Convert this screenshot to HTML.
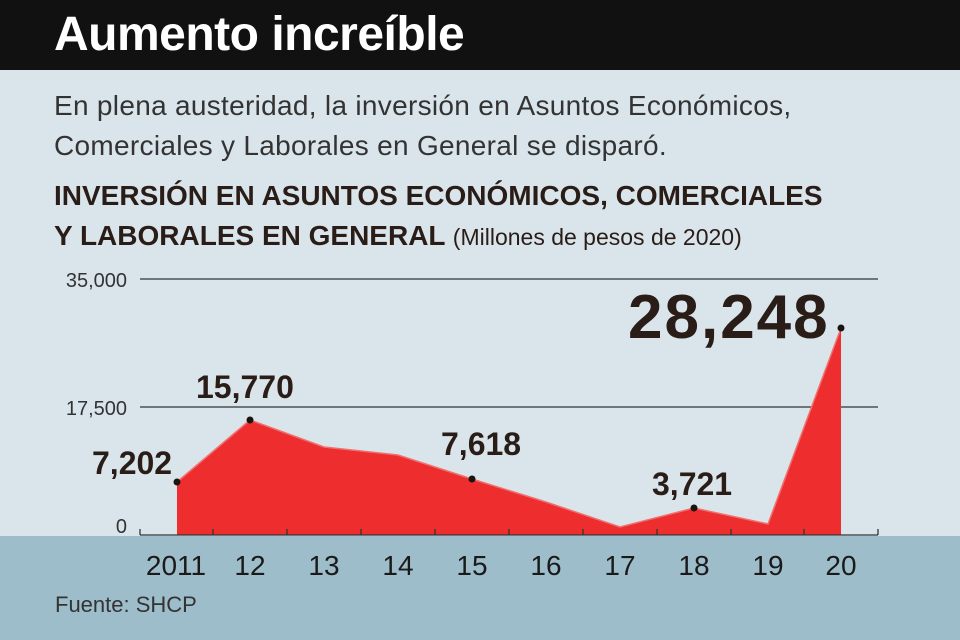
<!DOCTYPE html><html><head><meta charset="utf-8"><style>
body{margin:0;width:960px;height:640px;overflow:hidden;background:#d9e5eb;font-family:"Liberation Sans",sans-serif;position:relative}
.h{position:absolute;left:0;top:0;width:960px;height:70px;background:#111}
.t{position:absolute;left:54px;top:7px;color:#fff;font-weight:bold;font-size:48px;letter-spacing:-0.5px}
.s{position:absolute;left:54px;top:86px;font-size:28px;line-height:40px;color:#333;letter-spacing:0.3px}
.c{position:absolute;left:54px;top:176px;font-size:28px;line-height:40px;font-weight:bold;color:#2a1d17}
.c span{font-weight:normal;font-size:23px}
.band{position:absolute;left:0;top:536px;width:960px;height:104px;background:#9ebdca}
svg{position:absolute;left:0;top:0}
</style></head><body>
<div class="h"></div><div class="t">Aumento increíble</div>
<div class="s">En plena austeridad, la inversión en Asuntos Económicos,<br>Comerciales y Laborales en General se disparó.</div>
<div class="c">INVERSIÓN EN ASUNTOS ECONÓMICOS, COMERCIALES<br>Y LABORALES EN GENERAL <span>(Millones de pesos de 2020)</span></div>
<div class="band"></div>
<svg width="960" height="640" font-family="Liberation Sans, sans-serif">
<line x1="140" y1="279" x2="878" y2="279" stroke="#333" stroke-width="1.3"/>
<line x1="140" y1="407" x2="878" y2="407" stroke="#333" stroke-width="1.3"/>
<polygon points="177,535 177,482 250,420 324,447 398,455 472,479 546,502 620,527 694,508 768,524 841,328 841,535" fill="#ee2e2e"/>
<polyline points="177,482 250,420 324,447 398,455 472,479 546,502 620,527 694,508 768,524 841,328" fill="none" stroke="#f07070" stroke-width="1.5"/>
<line x1="140" y1="535" x2="878" y2="535" stroke="#333" stroke-width="1.3"/>
<g stroke="#333" stroke-width="1.3"><line x1="140" y1="529" x2="140" y2="535"/><line x1="213" y1="529" x2="213" y2="535"/><line x1="287" y1="529" x2="287" y2="535"/><line x1="361" y1="529" x2="361" y2="535"/><line x1="435" y1="529" x2="435" y2="535"/><line x1="509" y1="529" x2="509" y2="535"/><line x1="583" y1="529" x2="583" y2="535"/><line x1="657" y1="529" x2="657" y2="535"/><line x1="731" y1="529" x2="731" y2="535"/><line x1="804" y1="529" x2="804" y2="535"/><line x1="878" y1="529" x2="878" y2="535"/></g>
<g fill="#1a1410"><circle cx="177" cy="482" r="3.5"/><circle cx="250" cy="420" r="3.5"/><circle cx="472" cy="479" r="3.5"/><circle cx="694" cy="508" r="3.5"/><circle cx="841" cy="328" r="3.5"/></g>
<g font-size="20" fill="#333" text-anchor="end"><text x="127" y="287">35,000</text><text x="127" y="415">17,500</text><text x="127" y="533">0</text></g>
<g font-size="32" fill="#2a1d17" font-weight="bold"><text x="92" y="474">7,202</text><text x="196" y="398">15,770</text><text x="441" y="455">7,618</text><text x="652" y="495">3,721</text><text x="628" y="338" font-size="62" letter-spacing="2">28,248</text></g>
<g font-size="28" fill="#1a1a1a" text-anchor="middle"><text x="176" y="575">2011</text><text x="250" y="575">12</text><text x="324" y="575">13</text><text x="398" y="575">14</text><text x="472" y="575">15</text><text x="546" y="575">16</text><text x="620" y="575">17</text><text x="694" y="575">18</text><text x="768" y="575">19</text><text x="841" y="575">20</text></g>
<text x="55" y="612" font-size="22" fill="#333">Fuente: SHCP</text>
</svg>
</body></html>
